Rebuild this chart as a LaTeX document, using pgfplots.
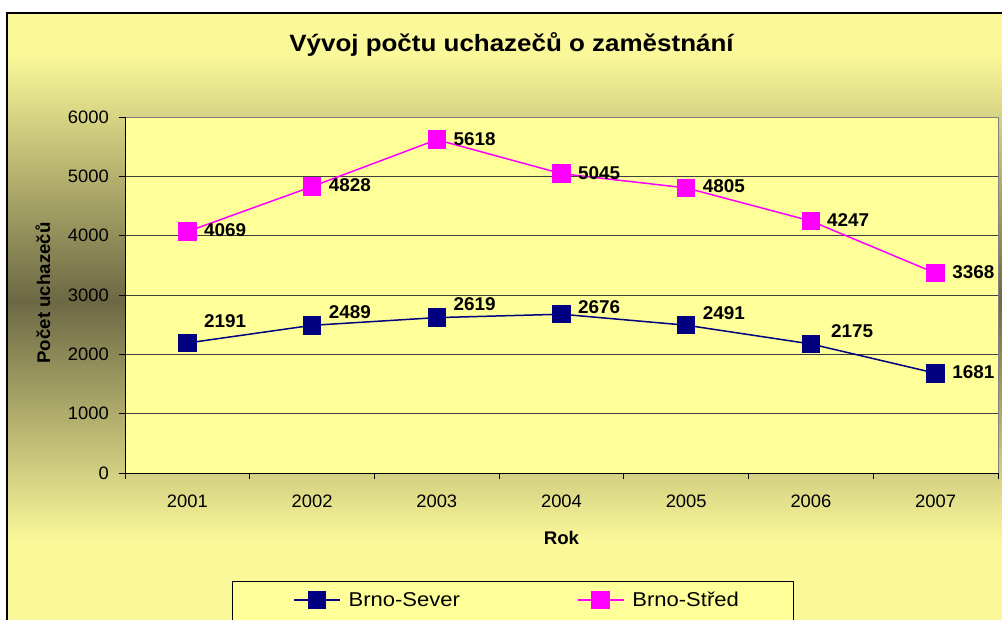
\documentclass[border=0pt]{standalone}
\usepackage{pgfplots}
\pgfplotsset{compat=1.18}
\usepackage{pgfplotstable}
\usepackage{fontspec}
\setmainfont{Liberation Sans}[FakeStretch=1.1]
\newfontfamily\digitfont{Liberation Sans}[FakeStretch=1.02]
\definecolor{bgyel}{HTML}{FAF899}
\definecolor{bgdark}{HTML}{6C6844}
\definecolor{plotyel}{HTML}{FFFF99}
\definecolor{severc}{HTML}{000080}
\definecolor{stredc}{HTML}{FF00FF}
\pgfdeclareverticalshading{chartbg}{100bp}{color(0bp)=(bgyel); color(31.9bp)=(bgyel); color(51.5bp)=(bgdark); color(71.6bp)=(bgyel); color(100bp)=(bgyel)}

\pgfplotstableread{
x y dx dy
0 2191 16 22
1 2489 16 13.5
2 2619 16 13.3
3 2676 16 6.7
4 2491 16 12
5 2175 19.5 13
6 1681 16 1
}\tabSever
\pgfplotstableread{
x y dx dy
0 4069 16 1
1 4828 16 1
2 5618 16 1
3 5045 16 1
4 4805 16 1.5
5 4247 15.5 1
6 3368 16 1
}\tabStred

\begin{document}
\begin{tikzpicture}
\useasboundingbox (-125pt,-146pt) rectangle (877pt,473pt);
\shade[shading=chartbg] (-118pt,-152pt) rectangle (878pt,460pt);
\draw[black, line width=1.2pt] (-118pt,-152pt) rectangle (878pt,460pt);
\draw[fill=plotyel, draw=black, line width=0.8pt] (107pt,-157pt) rectangle (668pt,-108pt);
\begin{axis}[
  scale only axis,
  width=873pt, height=356pt,
  xmin=-0.5, xmax=6.5, ymin=0, ymax=6000,
  axis lines*=left,
  axis line style={black, line width=0.8pt},
  axis background/.style={fill=plotyel, draw=black!50, line width=0.8pt},
  xtick={-0.5,0.5,...,6.5},
  xticklabels={2001,2002,2003,2004,2005,2006,2007},
  x tick label as interval,
  ytick={0,1000,...,5000},
  extra y ticks={6000},
  extra y tick style={grid=none},
  ymajorgrids,
  grid style={black!75, line width=0.8pt},
  tick align=outside,
  major tick length=6pt,
  tick style={black, line width=0.8pt},
  /pgf/number format/assume math mode=true,
  /pgf/number format/1000 sep={},
  yticklabel style={font=\digitfont\fontsize{18}{21}\selectfont, anchor=east, inner sep=0pt, xshift=-10pt},
  xticklabel style={font=\digitfont\fontsize{18}{21}\selectfont, anchor=base, inner sep=0pt, yshift=-28pt},
  title={Vývoj počtu uchazečů o zaměstnání},
  title style={font=\bfseries\fontsize{23.6}{28}\selectfont, at={(axis description cs:0.4427,1.1685)}, anchor=base},
  xlabel={Rok},
  xlabel style={font=\digitfont\bfseries\fontsize{18.3}{21}\selectfont, at={(axis description cs:0.5,-0.2022)}, anchor=base},
  ylabel={Počet uchazečů},
  ylabel style={font=\digitfont\bfseries\fontsize{18.3}{21}\selectfont, at={(axis description cs:-0.0859,0.5056)}, anchor=base},
  legend columns=2,
  legend image code/.code={\draw[#1,mark repeat=2,mark phase=2] plot coordinates {(0pt,0pt) (23pt,0pt) (46pt,0pt)};},
  legend style={at={(axis description cs:0.1924,-0.3567)}, anchor=west, draw=none, fill=none, inner sep=0pt, column sep=0pt,
    font=\fontsize{20}{24}\selectfont, nodes={inner sep=0pt},
    /tikz/every even column/.append style={column sep=117pt}},
  visualization depends on={\thisrow{dx} \as \dx},
  visualization depends on={\thisrow{dy} \as \dy},
  nodes near coords,
  nodes near coords style={font=\digitfont\bfseries\fontsize{18.5}{21}\selectfont, text=black, anchor=west, inner sep=0pt, xshift=\dx pt, yshift=\dy pt},
]
\addplot[severc, line width=1.5pt, mark=square*, mark size=8.5pt, mark options={solid, draw=none, fill=severc}] table[x=x,y=y] {\tabSever};
\addplot[stredc, line width=1.5pt, mark=square*, mark size=8.5pt, mark options={solid, draw=none, fill=stredc}] table[x=x,y=y] {\tabStred};
\legend{\hspace*{8pt}Brno-Sever, \hspace*{8pt}Brno-Střed}
\end{axis}
\end{tikzpicture}
\end{document}
